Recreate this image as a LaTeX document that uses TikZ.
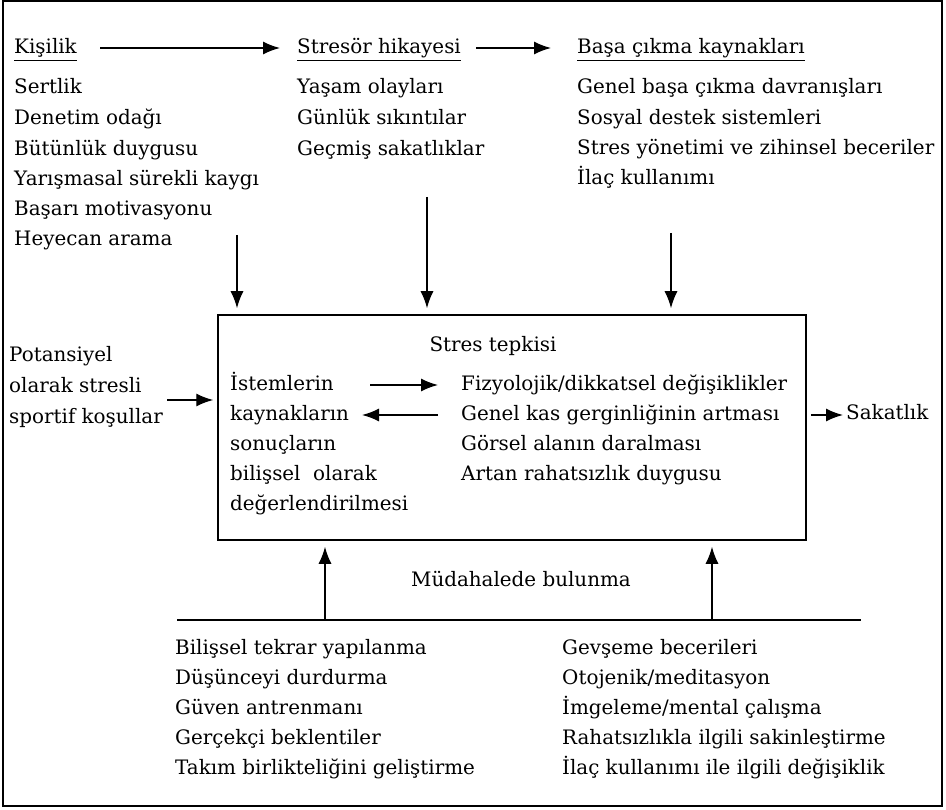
\documentclass[tikz,border=0pt]{standalone}
\usepackage{fontspec}
\setmainfont{DejaVu Serif}
\usetikzlibrary{arrows.meta}
\begin{document}
\begin{tikzpicture}[x=1pt,y=-1pt,
  txt/.style={anchor=west,inner sep=0pt,font=\fontsize{19.9}{24}\selectfont,text height=15pt,text depth=5pt},
  arr/.style={-{Latex[length=17pt,width=13pt]},line width=1.4pt},
  ln/.style={line width=1.4pt}]
\useasboundingbox (0,0) rectangle (946,810);
\draw[line width=1.5pt] (3,1) rectangle (942,806);
% headings
\node[txt] (kis) at (14,49) {Kişilik};
\node[txt] (str) at (297,49) {Stresör hikayesi};
\node[txt] (bas) at (577,49) {Başa çıkma kaynakları};
\foreach \n in {kis,str,bas} \draw[line width=0.9pt] ([yshift=-1pt]\n.south west) -- ([yshift=-1pt]\n.south east);
\coordinate (k1) at (100,48);
\coordinate (k2) at (280,48);
\coordinate (s1) at (476,48);
\coordinate (s2) at (551,48);
\draw[arr] (k1) -- (k2);
\draw[arr] (s1) -- (s2);
% left column
\node[txt] (l1) at (14,89) {Sertlik};
\node[txt] (l2) at (14,120) {Denetim odağı};
\node[txt] (l3) at (14,151) {Bütünlük duygusu};
\node[txt] (l4) at (14,181) {Yarışmasal sürekli kaygı};
\node[txt] (l5) at (14,211) {Başarı motivasyonu};
\node[txt] (l6) at (14,241) {Heyecan arama};
% middle column
\node[txt] (m1) at (297,89) {Yaşam olayları};
\node[txt] (m2) at (297,120) {Günlük sıkıntılar};
\node[txt] (m3) at (297,151) {Geçmiş sakatlıklar};
% right column
\node[txt] (r1) at (577,89) {Genel başa çıkma davranışları};
\node[txt] (r2) at (577,120) {Sosyal destek sistemleri};
\node[txt] (r3) at (577,150) {Stres yönetimi ve zihinsel beceriler};
\node[txt] (r4) at (577,180) {İlaç kullanımı};
% main box
\node[draw,line width=1.5pt,minimum width=588pt,minimum height=225pt,inner sep=0pt] (box) at (512,427.5) {};
\coordinate (d1) at (237,235);
\coordinate (d2) at (427,197);
\coordinate (d3) at (671,233);
\foreach \c in {d1,d2,d3} \draw[arr,shorten >=6pt] (\c) -- (\c |- box.north);
\node[anchor=center,inner sep=0pt,font=\fontsize{19.9}{24}\selectfont] (st) at (493,346) {Stres tepkisi};
\node[txt] (a1) at (230,386) {İstemlerin};
\node[txt] (a2) at (230,416) {kaynakların};
\node[txt] (a3) at (230,446) {sonuçların};
\node[txt] (a4) at (230,476) {bilişsel\ \ olarak};
\node[txt] (a5) at (230,506) {değerlendirilmesi};
\node[txt] (f1) at (461,386) {Fizyolojik/dikkatsel değişiklikler};
\node[txt] (f2) at (461,416) {Genel kas gerginliğinin artması};
\node[txt] (f3) at (461,446) {Görsel alanın daralması};
\node[txt] (f4) at (461,476) {Artan rahatsızlık duygusu};
\coordinate (ia) at (370,385);
\coordinate (ib) at (438,385);
\coordinate (ka) at (438,415);
\coordinate (kb) at (362,415);
\draw[arr] (ia) -- (ib);
\draw[arr] (ka) -- (kb);
% left input
\node[txt] (p1) at (9,357) {Potansiyel};
\node[txt] (p2) at (9,388) {olarak stresli};
\node[txt] (p3) at (9,419) {sportif koşullar};
\coordinate (pa) at (167,400);
\draw[arr,shorten >=4pt] (pa) -- (pa -| box.west);
% output
\node[txt] (sak) at (846,415) {Sakatlık};
\draw[arr,shorten <=4pt,shorten >=3pt] (box.east |- sak.west) -- (sak.west);
% intervention
\node[anchor=center,inner sep=0pt,font=\fontsize{19.9}{24}\selectfont] (mud) at (521,579) {Müdahalede bulunma};
\coordinate (h1) at (177,620);
\coordinate (h2) at (861,620);
\draw[ln] (h1) -- (h2);
\coordinate (u1) at (325,620);
\coordinate (u2) at (712,620);
\foreach \c in {u1,u2} \draw[arr,shorten >=6pt] (\c) -- (\c |- box.south);
\node[txt] (b1) at (175,649) {Bilişsel tekrar yapılanma};
\node[txt] (b2) at (175,679) {Düşünceyi durdurma};
\node[txt] (b3) at (175,709) {Güven antrenmanı};
\node[txt] (b4) at (175,739) {Gerçekçi beklentiler};
\node[txt] (b5) at (175,769) {Takım birlikteliğini geliştirme};
\node[txt] (g1) at (562,649) {Gevşeme becerileri};
\node[txt] (g2) at (562,679) {Otojenik/meditasyon};
\node[txt] (g3) at (562,709) {İmgeleme/mental çalışma};
\node[txt] (g4) at (562,739) {Rahatsızlıkla ilgili sakinleştirme};
\node[txt] (g5) at (562,769) {İlaç kullanımı ile ilgili değişiklik};
\end{tikzpicture}
\end{document}
